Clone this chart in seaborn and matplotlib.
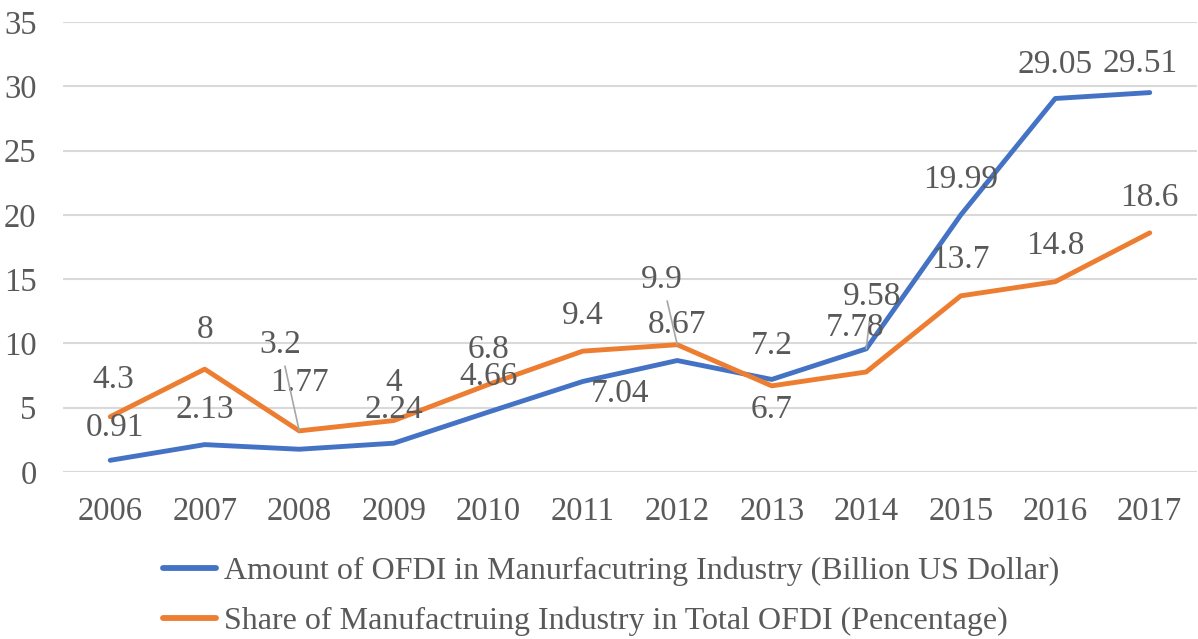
import matplotlib
matplotlib.use("Agg")
import matplotlib.pyplot as plt
import seaborn as sns
import pandas as pd

years = ["2006", "2007", "2008", "2009", "2010", "2011",
         "2012", "2013", "2014", "2015", "2016", "2017"]
amount = [0.91, 2.13, 1.77, 2.24, 4.66, 7.04, 8.67, 7.2, 9.58, 19.99, 29.05, 29.51]
share = [4.3, 8, 3.2, 4, 6.8, 9.4, 9.9, 6.7, 7.78, 13.7, 14.8, 18.6]
amount_name = "Amount of OFDI in Manurfacutring Industry (Billion US Dollar)"
share_name = "Share of Manufactruing Industry in Total OFDI (Pencentage)"
y_ticks = [0, 5, 10, 15, 20, 25, 30, 35]

# label offsets (pixels, dx, dy) relative to each point
amount_offsets = [(5, 33), (0, 35), (0, 66), (0, 33), (0, 35), (37, -12),
                  (0, 36), (0, 34), (6, 52), (0, 35), (0, 34), (-10, 29)]
share_offsets = [(3, 37), (0, 39), (-19, 86), (0, 38), (0, 35), (0, 35),
                 (-15, 65), (0, -24), (-11, 44), (0, 36), (0, 36), (0, 35)]
amount_leaders = {8}
share_leaders = {2, 6}

BLUE = "#4472C4"
ORANGE = "#ED7D31"
TEXT = "#595959"
GRID = "#D9D9D9"

sns.set_theme(style="white")
plt.rcParams["font.family"] = ["Liberation Serif", "DejaVu Serif"]

idx = list(range(len(years)))
df = pd.DataFrame({
    "x": idx * 2,
    "value": amount + share,
    "series": [amount_name] * len(years) + [share_name] * len(years),
})

dpi = 100
fig = plt.figure(figsize=(11.98, 6.39), dpi=dpi)
ax = fig.add_axes([63 / 1198, 1 - 472 / 639, (1197 - 63) / 1198, (472 - 22) / 639])

sns.lineplot(data=df, x="x", y="value", hue="series",
             palette=[BLUE, ORANGE], linewidth=3.5, ax=ax, legend=False,
             solid_capstyle="round", solid_joinstyle="round", zorder=3)

ax.set_xlim(-0.5, len(years) - 0.5)
ax.set_ylim(0, 35)
ax.set_yticks(y_ticks)
ax.set_xticks(idx)
ax.set_xticklabels(years)
ax.set_xlabel("")
ax.set_ylabel("")
for s in ax.spines.values():
    s.set_visible(False)
ax.yaxis.grid(True, color=GRID, linewidth=1.5, zorder=0)
ax.tick_params(axis="both", length=0, labelsize=23.5, colors=TEXT)
ax.tick_params(axis="y", pad=19)
ax.tick_params(axis="x", pad=18)
ax.axhline(0, color=GRID, linewidth=1.5, zorder=1)

def px_to_pt(v):
    return v * 72 / dpi

def label_series(values, offsets, leaders):
    for i, v in enumerate(values):
        dx, dy = offsets[i]
        kw = {}
        if i in leaders:
            kw["arrowprops"] = dict(arrowstyle="-", color="#A6A6A6", lw=1.2,
                                    shrinkA=2, shrinkB=0)
        ax.annotate(f"{v:g}", xy=(i, v), xytext=(px_to_pt(dx), px_to_pt(dy)),
                    textcoords="offset points", ha="center", va="center",
                    fontsize=24, color=TEXT, zorder=5, **kw)

label_series(amount, amount_offsets, amount_leaders)
label_series(share, share_offsets, share_leaders)

handles = [plt.Line2D([], [], color=BLUE, lw=4.2, solid_capstyle="round"),
           plt.Line2D([], [], color=ORANGE, lw=4.2, solid_capstyle="round")]
leg = fig.legend(handles, [amount_name, share_name], loc="upper left",
                 bbox_to_anchor=(163 / 1198, 1 - 557 / 639), frameon=False,
                 fontsize=23, handlelength=1.65, handletextpad=0.25,
                 labelspacing=0.62, borderaxespad=0, borderpad=0)
for t in leg.get_texts():
    t.set_color(TEXT)

fig.savefig("out.png", dpi=dpi)
